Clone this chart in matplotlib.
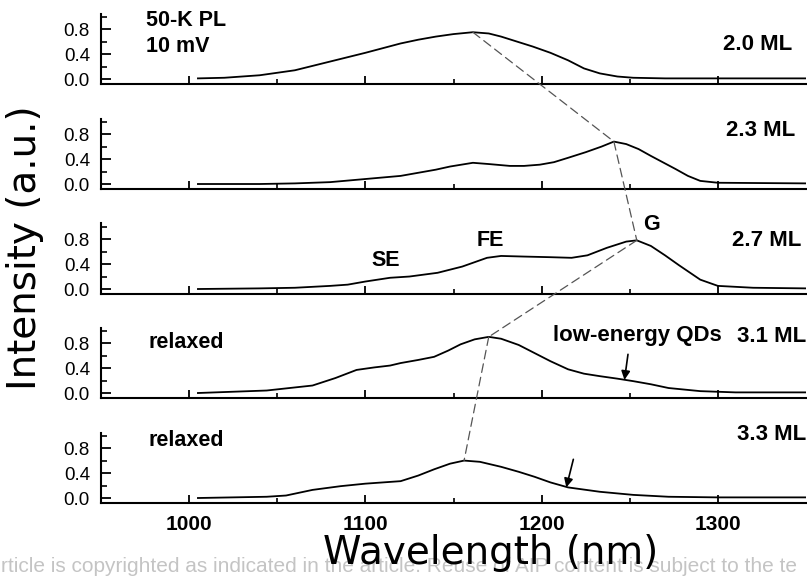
import matplotlib
matplotlib.use("Agg")
import matplotlib.pyplot as plt
from matplotlib.patches import ConnectionPatch
from matplotlib.ticker import FixedLocator
import numpy as np

plt.rcParams['font.family'] = ['Liberation Sans', 'DejaVu Sans']

# ---- data ----
wl_20 = [1005, 1020, 1040, 1060, 1080, 1100, 1120, 1130, 1140, 1150, 1161, 1170, 1177, 1186,
         1195, 1205, 1215, 1224, 1233, 1243, 1252, 1270, 1300, 1350]
int_20 = [0.01, 0.02, 0.06, 0.14, 0.28, 0.42, 0.57, 0.63, 0.68, 0.72, 0.75, 0.73, 0.68, 0.60,
          0.52, 0.42, 0.30, 0.17, 0.09, 0.04, 0.02, 0.01, 0.01, 0.01]

wl_23 = [1005, 1040, 1060, 1080, 1100, 1120, 1140, 1148, 1161, 1170, 1182, 1190, 1199, 1207,
         1215, 1225, 1234, 1241, 1248, 1255, 1262, 1270, 1276, 1283, 1290, 1300, 1350]
int_23 = [0.00, 0.00, 0.01, 0.03, 0.08, 0.13, 0.23, 0.28, 0.34, 0.32, 0.29, 0.29, 0.31, 0.35,
          0.42, 0.51, 0.60, 0.68, 0.64, 0.56, 0.45, 0.33, 0.24, 0.13, 0.05, 0.02, 0.01]

wl_27 = [1005, 1040, 1060, 1080, 1090, 1100, 1114, 1125, 1141, 1155, 1169, 1177, 1190, 1205,
         1217, 1226, 1237, 1248, 1254, 1262, 1270, 1278, 1290, 1300, 1320, 1350]
int_27 = [0.00, 0.01, 0.02, 0.05, 0.07, 0.12, 0.18, 0.20, 0.26, 0.36, 0.50, 0.53, 0.52, 0.51,
          0.50, 0.54, 0.66, 0.76, 0.78, 0.69, 0.54, 0.38, 0.15, 0.05, 0.02, 0.01]

wl_31 = [1005, 1044, 1070, 1083, 1095, 1105, 1114, 1120, 1130, 1139, 1147, 1154, 1162, 1170,
         1177, 1187, 1196, 1205, 1215, 1224, 1233, 1243, 1252, 1262, 1272, 1290, 1310, 1350]
int_31 = [0.00, 0.04, 0.12, 0.24, 0.37, 0.41, 0.44, 0.48, 0.53, 0.58, 0.68, 0.78, 0.86, 0.90,
          0.87, 0.77, 0.64, 0.51, 0.38, 0.31, 0.27, 0.23, 0.19, 0.14, 0.08, 0.03, 0.01, 0.01]

wl_33 = [1005, 1044, 1055, 1070, 1086, 1100, 1120, 1130, 1139, 1148, 1156, 1165, 1177, 1187,
         1196, 1205, 1215, 1233, 1252, 1272, 1300, 1350]
int_33 = [0.00, 0.02, 0.04, 0.13, 0.19, 0.23, 0.27, 0.36, 0.46, 0.55, 0.60, 0.58, 0.50, 0.42,
          0.34, 0.25, 0.17, 0.10, 0.05, 0.02, 0.01, 0.01]

series = [(wl_20, int_20), (wl_23, int_23), (wl_27, int_27), (wl_31, int_31), (wl_33, int_33)]
thickness_labels = ["2.0 ML", "2.3 ML", "2.7 ML", "3.1 ML", "3.3 ML"]
x_ticks = [1000, 1100, 1200, 1300]
y_ticks = [0.0, 0.4, 0.8]

# arrows marking low-energy QDs: (panel index, tail (wl, I), head (wl, I))
arrows = [(3, (1249, 0.62), (1247, 0.21)), (4, (1218, 0.62), (1214, 0.17))]

# ---- figure ----
W, H = 807, 576
fig = plt.figure(figsize=(W / 100, H / 100), dpi=100)

def fx(px):
    return px / W

def fy(py):
    return 1 - py / H

left_px, right_px = 101, 806
bottoms_px = [84, 189, 294, 398, 503]
height_px = 70.5

axes = []
for i, b in enumerate(bottoms_px):
    ax = fig.add_axes([fx(left_px), fy(b), fx(right_px - left_px), height_px / H])
    wl, inten = series[i]
    ax.plot(wl, inten, color='black', lw=1.3, solid_joinstyle='round')
    ax.set_xlim(950, 1350)
    ax.set_ylim(-0.08, 1.05)
    for s in ['top', 'right']:
        ax.spines[s].set_visible(False)
    for s in ['left', 'bottom']:
        ax.spines[s].set_linewidth(1.5)
    ax.xaxis.set_major_locator(FixedLocator(x_ticks))
    ax.xaxis.set_minor_locator(FixedLocator([1050, 1150, 1250]))
    ax.yaxis.set_major_locator(FixedLocator(y_ticks))
    ax.yaxis.set_minor_locator(FixedLocator([0.2, 0.6, 1.0]))
    ax.tick_params(axis='x', which='major', direction='in', length=6, width=1.3, pad=9)
    ax.tick_params(axis='x', which='minor', direction='in', length=3.5, width=1.2)
    ax.tick_params(axis='y', which='major', direction='in', length=7, width=1.3, pad=8)
    ax.tick_params(axis='y', which='minor', direction='in', length=4, width=1.2)
    ax.set_yticklabels([f"{v:.1f}" for v in y_ticks], fontsize=13.5)
    if i < 4:
        ax.set_xticklabels([])
    else:
        ax.set_xticklabels([str(v) for v in x_ticks], fontsize=15, fontweight='bold')
    ax.patch.set_alpha(0)
    axes.append(ax)

# dashed lines joining the peaks
peaks = []
for wl, inten in series:
    k = int(np.argmax(inten))
    peaks.append((wl[k], inten[k]))
for i in range(4):
    con = ConnectionPatch(xyA=peaks[i], coordsA=axes[i].transData,
                          xyB=peaks[i + 1], coordsB=axes[i + 1].transData,
                          linestyle=(0, (7, 4)), color='#555555', lw=0.9)
    fig.add_artist(con)

# arrows
for idx, tail, head in arrows:
    axes[idx].annotate('', xy=head, xytext=tail,
                       arrowprops=dict(arrowstyle='-|>', color='black', lw=1.2,
                                       mutation_scale=13, shrinkA=0, shrinkB=0))

# texts
bold = dict(fontweight='bold', color='black')
fig.text(fx(146), fy(21), "50-K PL", fontsize=15.5, ha='left', va='center', **bold)
fig.text(fx(146), fy(46), "10 mV", fontsize=15.5, ha='left', va='center', **bold)
ml_pos = [(792, 45), (795, 131), (801, 241), (806, 336), (806, 434)]
for lab, (x, y) in zip(thickness_labels, ml_pos):
    fig.text(fx(x), fy(y), lab, fontsize=16, ha='right', va='center', **bold)
fig.text(fx(553), fy(336), "low-energy QDs", fontsize=16, ha='left', va='center', **bold)
fig.text(fx(148), fy(343), "relaxed", fontsize=15.5, ha='left', va='center', **bold)
fig.text(fx(148), fy(441), "relaxed", fontsize=15.5, ha='left', va='center', **bold)
fig.text(fx(386), fy(260), "SE", fontsize=15.5, ha='center', va='center', **bold)
fig.text(fx(490), fy(240), "FE", fontsize=15.5, ha='center', va='center', **bold)
fig.text(fx(652), fy(225), "G", fontsize=15.5, ha='center', va='center', **bold)

# watermark (visible part of the notice at the bottom of the reference)
fig.text(fx(1), fy(566), "rticle is copyrighted as indicated in the article. Reuse of AIP content is subject to the te",
         fontsize=15.0, color='#c4c4c4', ha='left', va='center', zorder=0)

# axis labels
fig.text(fx(491), fy(553), "Wavelength (nm)", fontsize=28, family='DejaVu Sans',
         ha='center', va='center', zorder=5)
fig.text(fx(25), fy(248), "Intensity (a.u.)", fontsize=28, family='DejaVu Sans',
         rotation=90, ha='center', va='center')

fig.savefig("out.png", dpi=100)
